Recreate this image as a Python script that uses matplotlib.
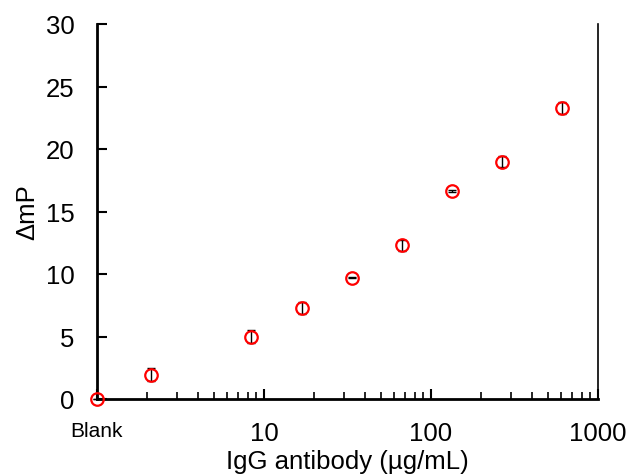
import matplotlib
matplotlib.use("Agg")
import matplotlib.pyplot as plt
from matplotlib.ticker import FixedLocator, LogLocator, NullFormatter

plt.rcParams['font.family'] = ['Liberation Sans', 'DejaVu Sans']

conc = [1, 2.1, 8.4, 16.8, 33.5, 67, 134, 268, 605]
dmp = [0.0, 1.95, 5.0, 7.3, 9.7, 12.3, 16.65, 19.0, 23.3]
err = [0.0, 0.5, 0.5, 0.5, 0.05, 0.45, 0.05, 0.45, 0.47]

xticks = [1, 10, 100, 1000]
xticklabels = ['Blank', '10', '100', '1000']
yticks = [0, 5, 10, 15, 20, 25, 30]

fig = plt.figure(figsize=(6.29, 4.77), dpi=100)
ax = fig.add_axes([97/629, 77/477, (598-97)/629, (400-25)/477])

ax.errorbar(conc, dmp, yerr=err, fmt='none', ecolor='black', elinewidth=1.0,
            capsize=3, capthick=1.0, clip_on=False, zorder=3)
ax.plot(conc, dmp, linestyle='none', marker='o', markersize=9,
        markerfacecolor='none', markeredgecolor='#ff0000', markeredgewidth=1.6,
        clip_on=False, zorder=4)

ax.set_xscale('log')
ax.set_xlim(1, 1000)
ax.set_ylim(0, 30)
ax.xaxis.set_major_locator(FixedLocator(xticks))
ax.set_xticklabels(xticklabels)
ax.xaxis.set_minor_locator(LogLocator(base=10, subs=range(2, 10)))
ax.xaxis.set_minor_formatter(NullFormatter())
ax.set_yticks(yticks)

ax.tick_params(axis='both', which='major', direction='in', length=7, width=1.5,
               labelsize=18.5, colors='black')
ax.tick_params(axis='y', which='major', pad=16)
ax.tick_params(axis='x', which='minor', direction='in', length=5, width=1.2)
ax.tick_params(axis='x', which='major', pad=16)
for lab in ax.get_xticklabels():
    if lab.get_text() == 'Blank':
        lab.set_fontsize(15)
        lab.set_verticalalignment('top')

ax.spines['top'].set_visible(False)
ax.spines['left'].set_linewidth(2.0)
ax.spines['bottom'].set_linewidth(2.0)
ax.spines['right'].set_linewidth(1.2)

ax.set_xlabel('IgG antibody (µg/mL)', fontsize=18.5, labelpad=3)
ax.set_ylabel('ΔmP', fontsize=18.5, labelpad=5)

fig.savefig('out.png', dpi=100)
